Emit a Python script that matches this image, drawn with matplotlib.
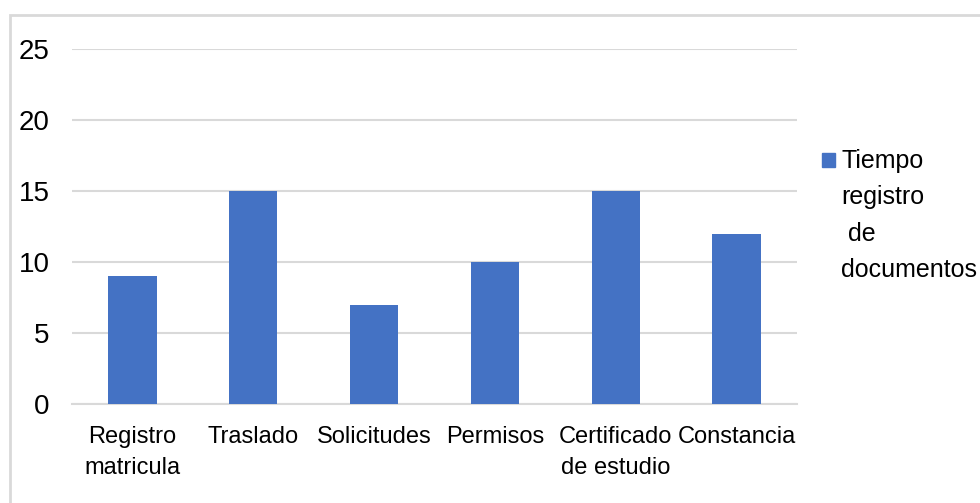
import matplotlib.pyplot as plt
from matplotlib.patches import Rectangle

categories = ["Registro\nmatricula", "Traslado", "Solicitudes", "Permisos",
              "Certificado\nde estudio", "Constancia"]
tiempo = [9, 15, 7, 10, 15, 12]
series_name = "Tiempo\nregistro\n de\ndocumentos"
y_ticks = [0, 5, 10, 15, 20, 25]

BAR_COLOR = "#4472C4"
GRID_COLOR = "#D9D9D9"
W, H = 980, 503

plt.rcParams["font.family"] = ["Liberation Sans", "DejaVu Sans"]

fig = plt.figure(figsize=(W / 100, H / 100), dpi=100)
ax = fig.add_axes([72 / W, 1 - 404 / H, (797 - 72) / W, (404 - 49) / H])

# outer chart frame (right and bottom edges run off the canvas)
fig.patches.append(Rectangle((10 / W, -0.05), 1.0, 1 - 15 / H + 0.05,
                             transform=fig.transFigure, fill=False,
                             edgecolor=GRID_COLOR, linewidth=2))

x = range(len(categories))
ax.bar(x, tiempo, width=0.4, color=BAR_COLOR, zorder=3)

ax.set_xlim(-0.5, len(categories) - 0.5)
ax.set_ylim(0, 25)
ax.set_yticks(y_ticks)
ax.set_xticks(list(x))
ax.set_xticklabels(categories, fontsize=17, linespacing=1.53)
ax.tick_params(axis="x", length=0, pad=16)
ax.tick_params(axis="y", length=0, pad=16, labelsize=20)

ax.yaxis.grid(True, color=GRID_COLOR, linewidth=1.5, zorder=0)
for side in ["top", "right", "left"]:
    ax.spines[side].set_visible(False)
ax.spines["bottom"].set_color(GRID_COLOR)
ax.spines["bottom"].set_linewidth(1.5)

# legend: swatch sits beside the first line of the label
fig.patches.append(Rectangle((822 / W, 1 - 167 / H), 13 / W, 14 / H,
                             transform=fig.transFigure, color=BAR_COLOR))
fig.text(841 / W, 1 - 149 / H, series_name, fontsize=18,
         va="top", ha="left", linespacing=1.65)

fig.savefig("out.png", dpi=100)
